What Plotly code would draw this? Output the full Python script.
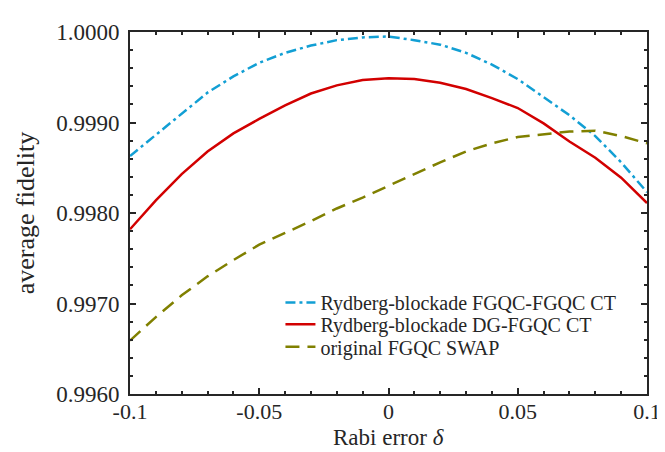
import plotly.graph_objects as go

delta = [-0.10, -0.09, -0.08, -0.07, -0.06, -0.05, -0.04, -0.03, -0.02, -0.01, 0.00,
         0.01, 0.02, 0.03, 0.04, 0.05, 0.06, 0.07, 0.08, 0.09, 0.10]

fgqc_fgqc_ct = [0.99863, 0.99886, 0.99910, 0.99933, 0.99951, 0.99966, 0.99977, 0.99985,
                0.99991, 0.99994, 0.99995, 0.99991, 0.99986, 0.99977, 0.99964, 0.99948,
                0.99928, 0.99908, 0.99885, 0.99856, 0.99823]
dg_fgqc_ct = [0.99782, 0.99814, 0.99843, 0.99868, 0.99888, 0.99904, 0.99919, 0.99932,
              0.99941, 0.99947, 0.99949, 0.99948, 0.99944, 0.99937, 0.99927, 0.99916,
              0.99899, 0.99879, 0.99861, 0.99839, 0.99811]
orig_swap = [0.99659, 0.99685, 0.99709, 0.99730, 0.99748, 0.99765, 0.99778, 0.99791,
             0.99805, 0.99817, 0.99830, 0.99843, 0.99856, 0.99868, 0.99877, 0.99884,
             0.99887, 0.99890, 0.99891, 0.99885, 0.99877]

names = ["Rydberg-blockade FGQC-FGQC CT", "Rydberg-blockade DG-FGQC CT", "original FGQC SWAP"]

x_tickvals = [-0.1, -0.05, 0, 0.05, 0.1]
x_ticktext = ["-0.1", "-0.05", "0", "0.05", "0.1"]
y_tickvals = [0.996, 0.997, 0.998, 0.999, 1.0]
y_ticktext = ["0.9960", "0.9970", "0.9980", "0.9990", "1.0000"]
x_title = "Rabi error <i>δ</i>"
y_title = "average fidelity"

FONT = "Liberation Serif, Times New Roman, serif"
AX = "#262626"

fig = go.Figure()
fig.add_trace(go.Scatter(x=delta, y=fgqc_fgqc_ct, mode="lines", name=names[0], legend="legend",
                         line=dict(color="#129FD4", width=2.5, dash="10px,4px,3px,4px")))
fig.add_trace(go.Scatter(x=delta, y=dg_fgqc_ct, mode="lines", name=names[1], legend="legend2",
                         line=dict(color="#D20000", width=2.5)))
fig.add_trace(go.Scatter(x=delta, y=orig_swap, mode="lines", name=names[2], legend="legend3",
                         line=dict(color="#808000", width=2.5, dash="14px,8px")))

leg_common = dict(x=0.291, xanchor="left", yanchor="middle", bgcolor="rgba(0,0,0,0)",
                  font=dict(family=FONT, size=20, color=AX), itemwidth=30)

fig.update_layout(
    width=665, height=452,
    margin=dict(l=122, r=16, t=18, b=66),
    paper_bgcolor="white", plot_bgcolor="white",
    font=dict(family=FONT, color=AX),
    showlegend=True,
    legend=dict(y=0.2528, **leg_common),
    legend2=dict(y=0.1930, **leg_common),
    legend3=dict(y=0.1305, **leg_common),
)
fig.add_annotation(text=x_title, xref="paper", yref="paper", x=0.5, y=-0.121,
                   xanchor="center", yanchor="middle", showarrow=False,
                   font=dict(family=FONT, size=23, color=AX))
fig.update_xaxes(
    range=[-0.1, 0.1], showgrid=False, zeroline=False,
    showline=True, linecolor=AX, linewidth=2, mirror="allticks",
    ticks="inside", ticklen=6, tickwidth=1.5, tickcolor=AX,
    tickvals=x_tickvals, ticktext=x_ticktext,
    tickfont=dict(family=FONT, size=22, color=AX),
    ticklabelstandoff=-3,
    minor=dict(ticks="inside", ticklen=3, tickwidth=1.5, tickcolor=AX, dtick=0.01, tick0=0),
)
fig.update_yaxes(
    range=[0.996, 1.0], showgrid=False, zeroline=False,
    showline=True, linecolor=AX, linewidth=2, mirror="allticks",
    ticks="inside", ticklen=6, tickwidth=1.5, tickcolor=AX,
    tickvals=y_tickvals, ticktext=y_ticktext,
    tickfont=dict(family=FONT, size=23, color=AX),
    minor=dict(ticks="inside", ticklen=3, tickwidth=1.5, tickcolor=AX, dtick=0.0002, tick0=0.996),
    title=dict(text=y_title, font=dict(family=FONT, size=26, color=AX), standoff=14),
    ticklabelstandoff=4,
)

fig.write_html("out.html")
